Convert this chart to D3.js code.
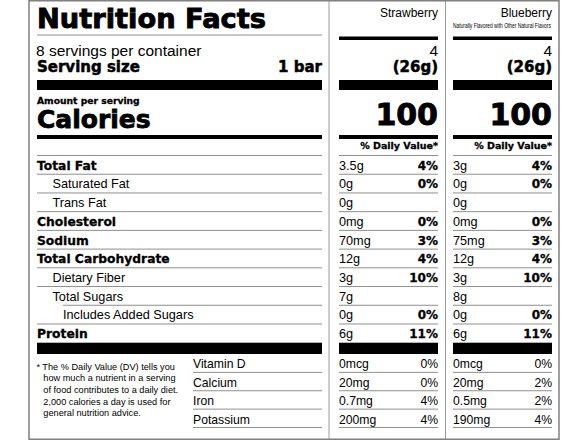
<!DOCTYPE html>
<html>
<head>
<meta charset="utf-8">
<title>Nutrition Facts</title>
<script src="https://d3js.org/d3.v7.min.js"></script>
<style>
  body { margin: 0; background: #fff; }
  .bold { font-family: "DejaVu Sans", sans-serif; font-weight: bold; fill: #000; stroke: #000; stroke-width: 0.3px; }
  .reg { font-family: "Liberation Sans", Arial, sans-serif; fill: #000; }
</style>
</head>
<body>
<div id="label"></div>
<script>
// nutrient rows (main table)
var nutrients = ["Total Fat", "Saturated Fat", "Trans Fat", "Cholesterol", "Sodium",
  "Total Carbohydrate", "Dietary Fiber", "Total Sugars", "Includes Added Sugars", "Protein"];
var indentLevel = [0, 1, 1, 0, 0, 0, 1, 1, 2, 0];
var strawberryAmt = ["3.5g", "0g", "0g", "0mg", "70mg", "12g", "3g", "7g", "0g", "6g"];
var strawberryDV = ["4%", "0%", "", "0%", "3%", "4%", "10%", "", "0%", "11%"];
var blueberryAmt = ["3g", "0g", "0g", "0mg", "75mg", "12g", "3g", "8g", "0g", "6g"];
var blueberryDV = ["4%", "0%", "", "0%", "3%", "4%", "10%", "", "0%", "11%"];

// vitamins / minerals
var vitamins = ["Vitamin D", "Calcium", "Iron", "Potassium"];
var strawberryVitAmt = ["0mcg", "20mg", "0.7mg", "200mg"];
var strawberryVitDV = ["0%", "0%", "4%", "4%"];
var blueberryVitAmt = ["0mcg", "20mg", "0.5mg", "190mg"];
var blueberryVitDV = ["0%", "2%", "2%", "4%"];

// header values
var flavors = ["Strawberry", "Blueberry"];
var flavorNotes = ["", "Naturally Flavored with Other Natural Flavors"];
var servingsPer = ["4", "4"];
var servingSize = ["(26g)", "(26g)"];
var calories = [100, 100];

var footnote = ["* The % Daily Value (DV) tells you",
  "how much a nutrient in a serving",
  "of food contributes to a daily diet.",
  "2,000 calories a day is used for",
  "general nutrition advice."];

var W = 588, H = 441;
var svg = d3.select("#label").append("svg").attr("width", W).attr("height", H);

// columns: two flavor panels
var cols = [
  { x0: 339, x1: 438, amt: strawberryAmt, dv: strawberryDV, vAmt: strawberryVitAmt, vDv: strawberryVitDV },
  { x0: 453, x1: 552, amt: blueberryAmt, dv: blueberryDV, vAmt: blueberryVitAmt, vDv: blueberryVitDV }
];
var L0 = 37, L1 = 322;

// row scales
var yRow = d3.scaleLinear().domain([0, nutrients.length]).range([155.5, 342.7]);
var yVit = d3.scaleLinear().domain([0, vitamins.length]).range([354, 427.5]);
var xIndent = d3.scaleOrdinal().domain([0, 1, 2]).range([37, 52.5, 63]);

// outer frame and dividers
svg.append("rect").attr("x", 29).attr("y", 0.75).attr("width", 530).attr("height", 438.5)
  .attr("fill", "none").attr("stroke", "#808080").attr("stroke-width", 1.5);
[329, 445.5].forEach(function (x) {
  svg.append("line").attr("x1", x).attr("x2", x).attr("y1", 1).attr("y2", 439)
    .attr("stroke", "#9a9a9a").attr("stroke-width", 1);
});

function hline(x0, x1, y) {
  svg.append("line").attr("x1", x0).attr("x2", x1).attr("y1", y).attr("y2", y)
    .attr("stroke", "#8f8f8f").attr("stroke-width", 1);
}
function bar(x0, x1, y0, y1) {
  svg.append("rect").attr("x", x0).attr("y", y0).attr("width", x1 - x0).attr("height", y1 - y0)
    .attr("fill", "#000");
}
function txt(x, y, s, cls, size, anchor) {
  return svg.append("text").attr("x", x).attr("y", y).attr("class", cls)
    .style("font-size", size + "px").attr("text-anchor", anchor || "start").text(s);
}

// ---- left panel header
txt(L0, 28, "Nutrition Facts", "bold", 27).attr("textLength", 229).attr("lengthAdjust", "spacingAndGlyphs")
  .style("stroke-width", "0.9px");
hline(L0, L1, 35);
txt(36, 55.5, "8 servings per container", "reg", 15.5);
txt(37, 72, "Serving size", "bold", 15).style("stroke-width", "0.5px");
txt(L1, 72, "1 bar", "bold", 15, "end").style("stroke-width", "0.5px");
bar(L0, L1, 80, 90);
txt(37, 104, "Amount per serving", "bold", 9.2);
txt(37, 127.5, "Calories", "bold", 25).style("stroke-width", "0.8px");
bar(L0, L1, 135, 139);
hline(L0, L1, 155.5);

// ---- flavor column headers
cols.forEach(function (c, k) {
  txt(c.x1, 17, flavors[k], "reg", 12, "end");
  if (flavorNotes[k]) {
    // condensed note: squeeze horizontally to fit the column width
    var note = svg.append("text").attr("class", "reg").style("font-size", "7.5px")
      .attr("x", 0).attr("y", 0).text(flavorNotes[k]);
    var sx = (c.x1 - c.x0 - 1) / note.node().getComputedTextLength();
    note.attr("transform", "translate(" + c.x0 + ",28) scale(" + sx + ",1)");
  }
  bar(c.x0, c.x1, 36.5, 40);
  txt(c.x1, 55.5, servingsPer[k], "reg", 15.5, "end");
  txt(c.x1, 72, servingSize[k], "bold", 15, "end").style("stroke-width", "0.5px");
  bar(c.x0, c.x1, 80, 90);
  txt(c.x1, 124.5, calories[k], "bold", 30, "end").style("stroke-width", "0.9px");
  bar(c.x0, c.x1, 135, 139);
  txt(c.x1, 148.5, "% Daily Value*", "bold", 9.5, "end");
  hline(c.x0, c.x1, 155.5);
});

// ---- nutrient rows
nutrients.forEach(function (n, i) {
  var lvl = indentLevel[i];
  var base = yRow(i + 1) - 4.5;
  if (lvl === 0) txt(xIndent(lvl), base, n, "bold", 12.3);
  else txt(xIndent(lvl), base, n, "reg", 12.7);
  if (i < nutrients.length - 1) {
    var nxt = indentLevel[i + 1];
    hline(nxt === 2 ? xIndent(2) : L0, L1, yRow(i + 1));
  }
  cols.forEach(function (c) {
    txt(c.x0, base, c.amt[i], "reg", 12.7);
    if (c.dv[i]) txt(c.x1, base, c.dv[i], "bold", 12, "end");
    if (i < nutrients.length - 1) hline(c.x0, c.x1, yRow(i + 1));
  });
});

// thick bar under protein
bar(L0, L1, yRow(nutrients.length), yVit(0));
cols.forEach(function (c) { bar(c.x0, c.x1, yRow(nutrients.length), yVit(0)); });

// ---- vitamins
vitamins.forEach(function (v, i) {
  var base = yVit(i + 1) - 4;
  txt(193, base, v, "reg", 12.2);
  hline(193, L1, yVit(i + 1));
  cols.forEach(function (c) {
    txt(c.x0, base, c.vAmt[i], "reg", 12.2);
    txt(c.x1, base, c.vDv[i], "reg", 12.2, "end");
    hline(c.x0, c.x1, yVit(i + 1));
  });
});

// ---- footnote
footnote.forEach(function (s, i) {
  if (i === 0) {
    txt(36.5, 369.5, "*", "reg", 9.2);
    txt(42.3, 369.5, s.slice(2), "reg", 9.2);
  } else {
    txt(43.3, 369.5 + i * 11.7, s, "reg", 9.2);
  }
});
</script>
</body>
</html>
